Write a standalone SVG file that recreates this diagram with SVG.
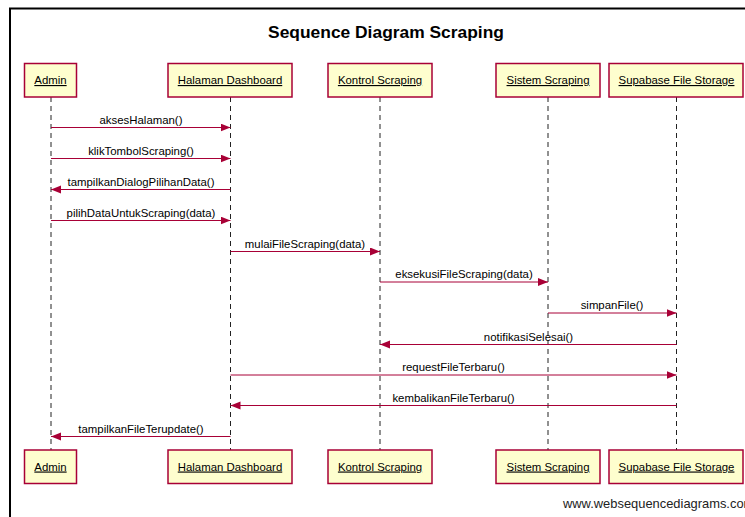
<svg xmlns="http://www.w3.org/2000/svg" width="745" height="517" viewBox="0 0 745 517">
  <style>
    .frame { fill: none; stroke: #000; stroke-width: 2; }
    .title { font-family: "Liberation Sans", Arial, sans-serif; font-size: 17.4px; font-weight: bold; fill: #000; text-anchor: middle; }
    .box { fill: #FEFECE; stroke: #A80036; stroke-width: 1.5; }
    .name { font-family: "Liberation Sans", Arial, sans-serif; font-size: 11.4px; fill: #000; text-anchor: middle; text-decoration: underline; }
    .life { stroke: #222; stroke-width: 1; stroke-dasharray: 5 4; }
    .msg { stroke: #A80036; stroke-width: 1; fill: none; }
    .lbl { font-family: "Liberation Sans", Arial, sans-serif; font-size: 11.4px; fill: #000; text-anchor: middle; }
    .mark { font-family: "Liberation Sans", Arial, sans-serif; font-size: 12.9px; fill: #222; }
  </style>
  <defs>
    <marker id="arrow" markerUnits="userSpaceOnUse" markerWidth="11" markerHeight="9" refX="10" refY="4" orient="auto">
      <path d="M0,0 L10,4 L0,8 Z" fill="#A80036"/>
    </marker>
  </defs>

  <rect width="745" height="517" fill="#fff"/>
  <path class="frame" d="M10,520 V8.5 H750"/>
  <text class="title" x="386" y="37.5">Sequence Diagram Scraping</text>

  <!-- lifelines -->
  <g id="lifelines">
    <line class="life" x1="51" y1="97" x2="51" y2="450"/>
    <line class="life" x1="230.5" y1="97" x2="230.5" y2="450"/>
    <line class="life" x1="380" y1="97" x2="380" y2="450"/>
    <line class="life" x1="548" y1="97" x2="548" y2="450"/>
    <line class="life" x1="676.5" y1="97" x2="676.5" y2="450"/>
  </g>

  <!-- participants -->
  <g id="admin">
    <rect class="box" x="24.5" y="63.5" width="52" height="33.5"/>
    <text class="name" x="50.5" y="84">Admin</text>
    <rect class="box" x="24.5" y="450" width="52" height="33.5"/>
    <text class="name" x="50.5" y="470.5">Admin</text>
  </g>
  <g id="halaman-dashboard">
    <rect class="box" x="168" y="63.5" width="124" height="33.5"/>
    <text class="name" x="230" y="84">Halaman Dashboard</text>
    <rect class="box" x="168" y="450" width="124" height="33.5"/>
    <text class="name" x="230" y="470.5">Halaman Dashboard</text>
  </g>
  <g id="kontrol-scraping">
    <rect class="box" x="328" y="63.5" width="104" height="33.5"/>
    <text class="name" x="380" y="84">Kontrol Scraping</text>
    <rect class="box" x="328" y="450" width="104" height="33.5"/>
    <text class="name" x="380" y="470.5">Kontrol Scraping</text>
  </g>
  <g id="sistem-scraping">
    <rect class="box" x="496" y="63.5" width="104" height="33.5"/>
    <text class="name" x="548" y="84">Sistem Scraping</text>
    <rect class="box" x="496" y="450" width="104" height="33.5"/>
    <text class="name" x="548" y="470.5">Sistem Scraping</text>
  </g>
  <g id="supabase-file-storage">
    <rect class="box" x="609" y="63.5" width="134" height="33.5"/>
    <text class="name" x="676.5" y="84">Supabase File Storage</text>
    <rect class="box" x="609" y="450" width="134" height="33.5"/>
    <text class="name" x="676.5" y="470.5">Supabase File Storage</text>
  </g>

  <!-- messages -->
  <g id="connectors">
    <line class="msg" x1="51" y1="127.5" x2="230.5" y2="127.5" marker-end="url(#arrow)"/>
    <text class="lbl" x="141" y="123.5">aksesHalaman()</text>

    <line class="msg" x1="51" y1="158.5" x2="230.5" y2="158.5" marker-end="url(#arrow)"/>
    <text class="lbl" x="141" y="154.5">klikTombolScraping()</text>

    <line class="msg" x1="230.5" y1="189.5" x2="51" y2="189.5" marker-end="url(#arrow)"/>
    <text class="lbl" x="141" y="185.5">tampilkanDialogPilihanData()</text>

    <line class="msg" x1="51" y1="220.5" x2="230.5" y2="220.5" marker-end="url(#arrow)"/>
    <text class="lbl" x="141" y="216.5">pilihDataUntukScraping(data)</text>

    <line class="msg" x1="230.5" y1="251.5" x2="380" y2="251.5" marker-end="url(#arrow)"/>
    <text class="lbl" x="305" y="247.5">mulaiFileScraping(data)</text>

    <line class="msg" x1="380" y1="282" x2="548" y2="282" marker-end="url(#arrow)"/>
    <text class="lbl" x="464" y="278">eksekusiFileScraping(data)</text>

    <line class="msg" x1="548" y1="313" x2="676.5" y2="313" marker-end="url(#arrow)"/>
    <text class="lbl" x="612" y="309">simpanFile()</text>

    <line class="msg" x1="676.5" y1="344.5" x2="380" y2="344.5" marker-end="url(#arrow)"/>
    <text class="lbl" x="528.5" y="340.5">notifikasiSelesai()</text>

    <line class="msg" x1="230.5" y1="375" x2="676.5" y2="375" marker-end="url(#arrow)"/>
    <text class="lbl" x="453.5" y="371">requestFileTerbaru()</text>

    <line class="msg" x1="676.5" y1="405.5" x2="230.5" y2="405.5" marker-end="url(#arrow)"/>
    <text class="lbl" x="453.5" y="401.5">kembalikanFileTerbaru()</text>

    <line class="msg" x1="230.5" y1="436.5" x2="51" y2="436.5" marker-end="url(#arrow)"/>
    <text class="lbl" x="141" y="432.5">tampilkanFileTerupdate()</text>
  </g>

  <text class="mark" x="563" y="508">www.websequencediagrams.com</text>
</svg>
